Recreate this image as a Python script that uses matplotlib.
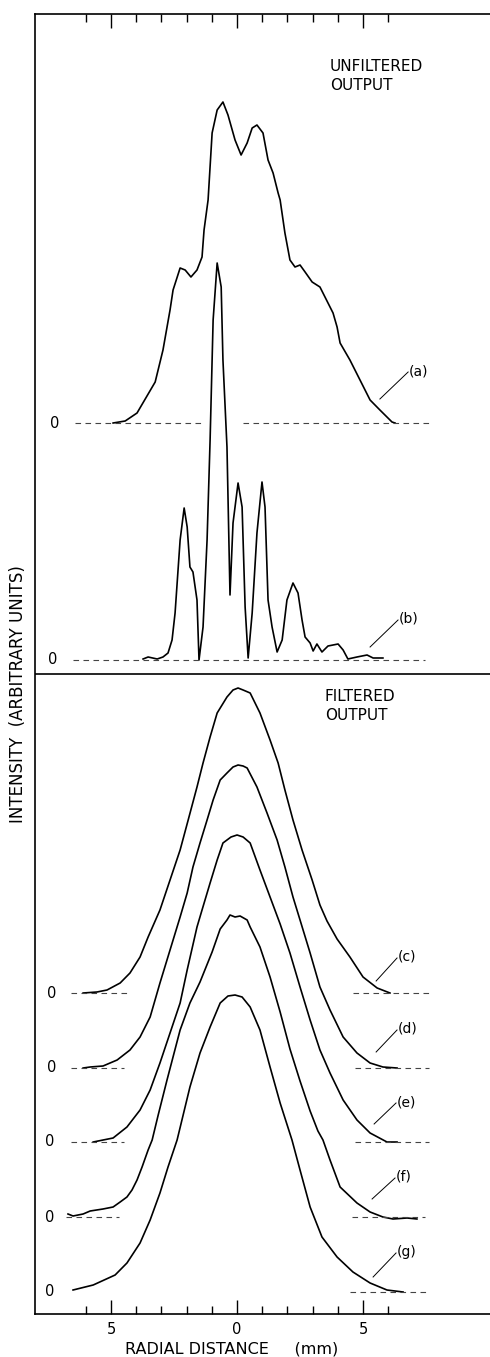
import matplotlib
matplotlib.use("Agg")
import matplotlib.pyplot as plt
import numpy as np

plt.rcParams['font.family'] = ['DejaVu Sans']

# radial distance (mm) and intensity above each trace's own zero line (arbitrary units)
x_a = [-4.92, -4.44, -3.97, -3.25, -2.94, -2.66, -2.54, -2.26, -2.06, -1.83, -1.59, -1.39, -1.31,
       -1.15, -0.99, -0.79, -0.56, -0.36, -0.08, 0.16, 0.40, 0.60, 0.79, 1.03, 1.23, 1.43, 1.63,
       1.71, 1.90, 2.10, 2.30, 2.50, 2.70, 2.98, 3.29, 3.49, 3.81, 3.97, 4.09, 4.48, 4.88, 5.28,
       5.67, 6.15, 6.27]
y_a = [0, 0.2, 1.0, 4.1, 7.3, 11.3, 13.3, 15.5, 15.3, 14.6, 15.3, 16.6, 19.3,
       22.3, 29.0, 31.3, 32.1, 30.8, 28.3, 26.8, 28.0, 29.5, 29.8, 29.0, 26.3, 25.0, 23.0,
       22.3, 19.0, 16.3, 15.6, 15.8, 15.1, 14.1, 13.6, 12.6, 11.0, 9.6, 8.0, 6.3, 4.3, 2.3,
       1.3, 0.1, 0]

x_b = [-3.73, -3.53, -3.17, -2.94, -2.74, -2.58, -2.46, -2.26, -2.10, -1.98, -1.87, -1.75, -1.59,
       -1.51, -1.35, -1.19, -1.07, -0.95, -0.79, -0.63, -0.56, -0.40, -0.28, -0.16, 0.04, 0.20,
       0.32, 0.44, 0.60, 0.79, 0.99, 1.11, 1.23, 1.39, 1.59, 1.79, 1.98, 2.22, 2.42, 2.58, 2.70,
       2.90, 3.02, 3.17, 3.37, 3.61, 4.01, 4.21, 4.40, 4.76, 5.16, 5.40, 5.79]
y_b = [0.1, 0.3, 0.1, 0.3, 0.7, 2.0, 4.7, 12.0, 15.2, 13.3, 9.3, 8.8, 6.0,
       0, 3.3, 12.0, 22.0, 34.0, 39.7, 37.3, 30.0, 21.3, 6.5, 13.7, 17.7, 15.3,
       5.3, 0.2, 4.7, 12.7, 17.8, 15.3, 6.0, 3.3, 0.8, 2.0, 6.0, 7.7, 6.7, 4.0, 2.3,
       1.7, 0.9, 1.6, 0.8, 1.4, 1.6, 1.0, 0.1, 0.3, 0.5, 0.2, 0.2]

x_c = [-6.11, -5.56, -5.16, -4.64, -4.25, -3.85, -3.53, -3.06, -2.66, -2.26, -1.94, -1.59, -1.35,
       -1.07, -0.79, -0.40, -0.16, 0.04, 0.24, 0.52, 0.91, 1.31, 1.63, 1.90, 2.22, 2.58, 2.98,
       3.29, 3.57, 3.97, 4.48, 5.00, 5.56, 6.07]
y_c = [0, 0.1, 0.3, 1.0, 2.0, 3.6, 5.6, 8.3, 11.3, 14.3, 17.3, 20.6, 23.0,
       25.6, 28.0, 29.6, 30.3, 30.5, 30.3, 30.0, 28.0, 25.3, 23.0, 20.3, 17.3, 14.3, 11.3,
       8.8, 7.2, 5.4, 3.6, 1.6, 0.5, 0]

x_d = [-6.11, -5.83, -5.32, -4.76, -4.25, -3.85, -3.45, -3.06, -2.66, -2.26, -1.98, -1.75, -1.47,
       -1.19, -0.95, -0.67, -0.40, -0.16, 0.04, 0.24, 0.40, 0.79, 1.19, 1.59, 1.90, 2.22, 2.50,
       2.90, 3.29, 3.69, 4.21, 4.76, 5.28, 5.79, 6.35]
y_d = [0, 0.1, 0.2, 0.8, 1.8, 3.1, 5.1, 8.5, 11.8, 15.1, 17.5, 20.1, 22.5,
       24.8, 26.8, 28.8, 29.5, 30.1, 30.3, 30.2, 30.0, 28.1, 25.5, 22.8, 20.1, 17.1, 14.8,
       11.5, 8.1, 5.8, 3.1, 1.5, 0.5, 0.1, 0]

x_e = [-5.71, -4.92, -4.37, -3.85, -3.45, -3.06, -2.66, -2.26, -1.98, -1.59, -1.39, -1.07, -0.79,
       -0.56, -0.24, 0, 0.24, 0.52, 0.91, 1.31, 1.71, 2.10, 2.50, 2.90, 3.29, 3.69, 4.21, 4.76,
       5.28, 5.95, 6.35]
y_e = [0, 0.4, 1.5, 3.2, 5.2, 7.9, 10.9, 13.9, 17.2, 21.5, 23.2, 25.9, 28.2,
       29.9, 30.5, 30.7, 30.5, 29.9, 27.2, 24.5, 21.8, 18.9, 15.5, 12.2, 9.2, 6.9, 4.2, 2.2,
       0.9, 0, 0]

x_f = [-6.71, -6.51, -6.31, -6.11, -5.83, -5.32, -4.92, -4.64, -4.37, -4.17, -3.97, -3.77, -3.53,
       -3.37, -3.13, -2.78, -2.26, -1.87, -1.47, -0.99, -0.67, -0.40, -0.28, -0.08, 0.12, 0.40,
       0.52, 0.91, 1.31, 1.71, 2.10, 2.50, 2.90, 3.21, 3.41, 3.69, 4.09, 4.76, 5.28, 5.79, 6.19,
       6.75, 7.14]
y_f = [0.3, 0.1, 0.2, 0.3, 0.6, 0.8, 1.0, 1.5, 2.0, 2.7, 3.7, 5.0, 6.7,
       7.7, 10.2, 13.7, 18.7, 21.4, 23.5, 26.5, 28.8, 29.7, 30.2, 30.0, 30.1, 29.7,
       29.0, 27.0, 24.0, 20.5, 16.8, 13.6, 10.6, 8.6, 7.7, 5.7, 3.0, 1.4, 0.5, 0, -0.2,
       -0.1, -0.2]

x_g = [-6.51, -5.71, -4.84, -4.37, -3.85, -3.45, -3.06, -2.74, -2.38, -1.87, -1.47, -1.07, -0.67,
       -0.36, -0.08, 0.20, 0.52, 0.91, 1.31, 1.71, 2.18, 2.50, 2.90, 3.37, 3.97, 4.60, 5.28, 5.95,
       6.59]
y_g = [0.2, 0.7, 1.7, 2.9, 4.9, 7.2, 9.9, 12.5, 15.2, 20.5, 23.9, 26.5, 28.9,
       29.6, 29.7, 29.5, 28.5, 26.2, 22.5, 18.9, 15.2, 12.2, 8.5, 5.5, 3.5, 2.0, 0.9, 0.2,
       0]

curve_x = [x_a, x_b, x_c, x_d, x_e, x_f, x_g]
curve_y = [y_a, y_b, y_c, y_d, y_e, y_f, y_g]
curve_tags = ['(a)', '(b)', '(c)', '(d)', '(e)', '(f)', '(g)']
zero_levels = [89.1, 65.4, 32.1, 24.6, 17.2, 9.7, 2.2]

# dashed zero lines (start, end in mm) for each trace
zero_segments = [
    [(-6.43, -1.27), (0.24, 7.66)],
    [(-6.5, 7.46)],
    [(-6.6, -4.3), (4.6, 7.6)],
    [(-6.6, -4.5), (4.7, 7.6)],
    [(-6.6, -4.5), (4.7, 7.6)],
    [(-6.8, -4.7), (4.56, 7.46)],
    [(4.5, 7.6)],
]
zero_label_x = [-7.22, -7.30, -7.34, -7.34, -7.42, -7.42, -7.42]

# leader lines (mm, height above zero)
leader_start = [(5.67, 2.4), (5.28, 1.3), (5.52, 1.2), (5.52, 1.6), (5.44, 1.8), (5.36, 1.8), (5.40, 1.5)]
leader_end = [(6.79, 5.1), (6.39, 4.0), (6.35, 3.5), (6.35, 3.8), (6.31, 3.9), (6.27, 3.9), (6.31, 3.9)]

fig = plt.figure(figsize=(4.9, 13.57), dpi=100)
ax = fig.add_axes([35 / 490, 43 / 1357, 455 / 490, 1300 / 1357])
ax.set_xlim(-8.02, 10.04)
ax.set_ylim(0, 130)

for xs, ys, base in zip(curve_x, curve_y, zero_levels):
    ax.plot(xs, np.array(ys) + base, color='black', lw=1.2, solid_joinstyle='round')

for segs, base in zip(zero_segments, zero_levels):
    for x0, x1 in segs:
        ax.plot([x0, x1], [base, base], color='#444444', lw=0.8, ls=(0, (5, 4)))

for lx, base in zip(zero_label_x, zero_levels):
    ax.text(lx, base, '0', ha='center', va='center', fontsize=10.5)

for tag, base, p0, p1 in zip(curve_tags, zero_levels, leader_start, leader_end):
    ax.plot([p0[0], p1[0]], [base + p0[1], base + p1[1]], color='black', lw=0.7)
    ax.text(p1[0] + 0.04, base + p1[1] + 0.1, tag, ha='left', va='center', fontsize=10)

# separator between the two panels
ax.axhline(64.0, color='black', lw=1.2)

ax.text(3.69, 125.5, 'UNFILTERED\nOUTPUT', ha='left', va='top', fontsize=11, linespacing=1.3)
ax.text(3.49, 62.5, 'FILTERED\nOUTPUT', ha='left', va='top', fontsize=11, linespacing=1.3)

ax.spines['right'].set_visible(False)
for side in ['left', 'top', 'bottom']:
    ax.spines[side].set_linewidth(1.2)

ax.set_yticks([])
ax.set_xticks([-5, 0, 5])
ax.set_xticklabels(['5', '0', '5'])
ax.set_xticks([-6, -4, -3, -2, -1, 1, 2, 3, 4, 6], minor=True)
ax.tick_params(axis='x', which='both', direction='in', top=True, bottom=True, width=1.0, labelsize=10.5, pad=6)
ax.tick_params(axis='x', which='major', length=10)
ax.tick_params(axis='x', which='minor', length=6)

fig.text(232 / 490, 1 - 1349 / 1357, 'RADIAL DISTANCE     (mm)', ha='center', va='center', fontsize=11.5)
fig.text(18 / 490, 1 - 694 / 1357, 'INTENSITY  (ARBITRARY UNITS)', ha='center', va='center',
         rotation=90, fontsize=12)

fig.savefig('out.png', dpi=100)
